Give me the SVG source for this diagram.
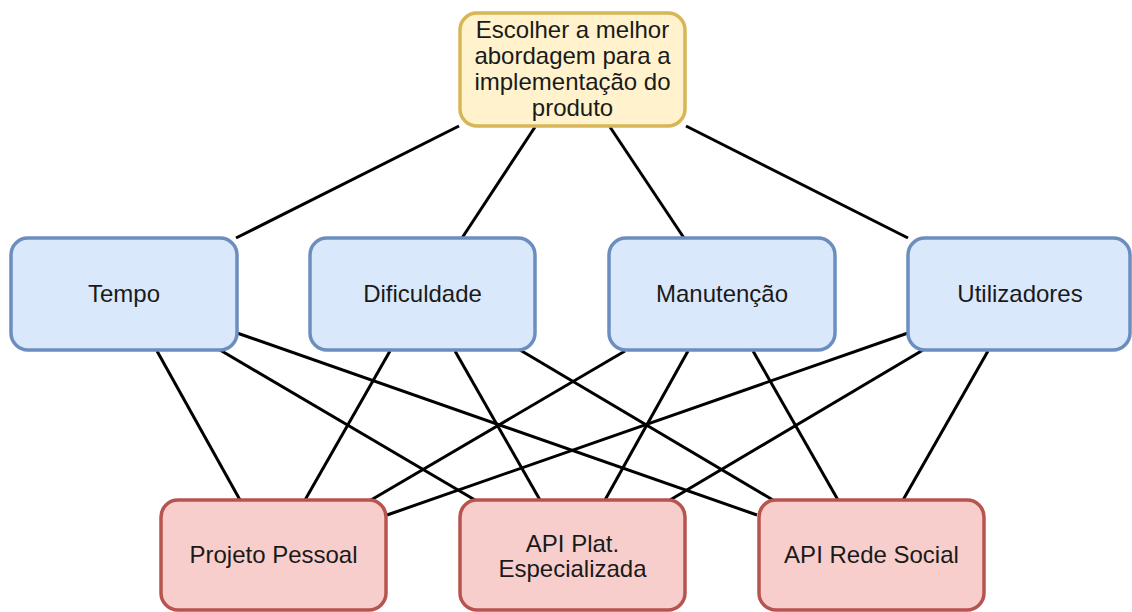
<svg xmlns="http://www.w3.org/2000/svg" width="1132" height="612" viewBox="0 0 1132 612">
<style>
.n rect{stroke-width:3.5}
.y rect{fill:#fff2cc;stroke:#d6b656}
.b rect{fill:#dae8fc;stroke:#6c8ebf}
.r rect{fill:#f8cecc;stroke:#b85450}
text{font-family:"Liberation Sans",Arial,sans-serif;font-size:24px;fill:#1a1a1a;text-anchor:middle}
#edges line{stroke:#000;stroke-width:3}
</style>
<rect width="1132" height="612" fill="#fff"/>
<g id="edges">
<line x1="459" y1="126" x2="236" y2="238"/>
<line x1="535" y1="127" x2="462" y2="238"/>
<line x1="610" y1="127" x2="684" y2="238"/>
<line x1="686" y1="126" x2="908" y2="238"/>
<line x1="157" y1="351" x2="240" y2="500"/>
<line x1="220" y1="350" x2="475" y2="500"/>
<line x1="237" y1="333" x2="757" y2="515"/>
<line x1="390" y1="351" x2="305" y2="500"/>
<line x1="455" y1="351" x2="540" y2="500"/>
<line x1="520" y1="350" x2="773" y2="500"/>
<line x1="625" y1="351" x2="371" y2="500"/>
<line x1="688" y1="351" x2="605" y2="500"/>
<line x1="753" y1="351" x2="838" y2="500"/>
<line x1="908" y1="333" x2="387" y2="515"/>
<line x1="923" y1="350" x2="670" y2="500"/>
<line x1="988" y1="351" x2="903" y2="500"/>
</g>
<g id="goal" class="n y">
<rect x="460" y="13" width="225" height="113" rx="17"/>
<text x="572.5" y="38">Escolher a melhor</text>
<text x="572.5" y="64">abordagem para a</text>
<text x="572.5" y="90">implementação do</text>
<text x="572.5" y="116">produto</text>
</g>
<g id="tempo" class="n b">
<rect x="11" y="238" width="226" height="112" rx="17"/>
<text x="124" y="302">Tempo</text>
</g>
<g id="dificuldade" class="n b">
<rect x="310" y="238" width="225" height="112" rx="17"/>
<text x="422.5" y="302">Dificuldade</text>
</g>
<g id="manutencao" class="n b">
<rect x="609" y="238" width="226" height="112" rx="17"/>
<text x="722" y="302">Manutenção</text>
</g>
<g id="utilizadores" class="n b">
<rect x="908" y="238" width="222" height="112" rx="17"/>
<text x="1020" y="302">Utilizadores</text>
</g>
<g id="projeto" class="n r">
<rect x="161" y="500" width="225" height="110" rx="17"/>
<text x="273.5" y="563">Projeto Pessoal</text>
</g>
<g id="apiplat" class="n r">
<rect x="460" y="500" width="225" height="110" rx="17"/>
<text x="572.5" y="552">API Plat.</text>
<text x="572.5" y="577">Especializada</text>
</g>
<g id="apirede" class="n r">
<rect x="759" y="500" width="225" height="110" rx="17"/>
<text x="871.5" y="563">API Rede Social</text>
</g>
</svg>
